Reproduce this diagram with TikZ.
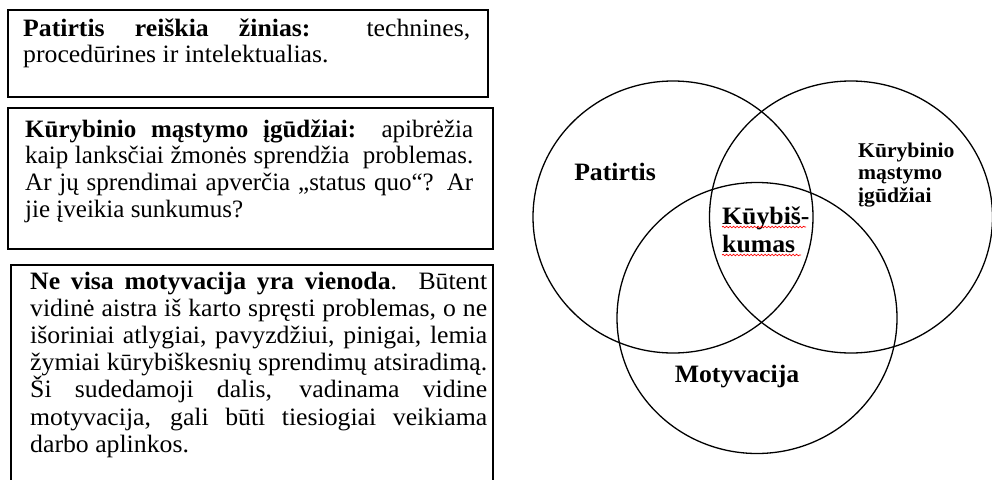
\documentclass[tikz,border=0pt]{standalone}
\usepackage{fontspec}
\setmainfont{Liberation Serif}[FakeStretch=1.03]
\newfontfamily\narrowserif{Liberation Serif}
\usetikzlibrary{ shapes.geometric,        % For the ellipse rings
                 fit,                     % For boxes around the texts
                 decorations.pathmorphing, % For the wavy underline
               }
\hyphenpenalty=10000
\exhyphenpenalty=10000
\tikzstyle{panel} = [rectangle, draw=black, line width=1.3pt, inner sep=0pt]
\tikzstyle{panel_text} = [anchor=base west, inner sep=0pt, align=justify, font=\fontsize{25}{26.7}\selectfont]
\tikzstyle{ring} = [ellipse, draw=black, line width=1.3pt, inner sep=0pt, minimum width=280pt, minimum height=272pt]
\tikzstyle{ring_label} = [inner sep=0pt, anchor=base, font=\fontsize{25}{28}\selectfont\bfseries]
\tikzstyle{squiggle} = [red, line width=0.7pt, decorate, decoration={snake, amplitude=0.8pt, segment length=3.5pt}]

\begin{document}
\begin{tikzpicture}[x=1pt, y=-1pt]
  \useasboundingbox (0, 0) rectangle (992, 479);
  % text panels
  \node (txt_exp) [panel_text, text width=447pt] at (23, 36) {\textbf{Patirtis reiškia žinias:} technines,\linebreak procedūrines ir intelektualias.};
  \node (box_exp) [panel, fit={(8, 10) (488, 97)}] {};
  \node (txt_cre) [panel_text, text width=448pt, font=\narrowserif\fontsize{25}{26.7}\selectfont] at (25, 137) {\textbf{Kūrybinio mąstymo įgūdžiai:} apibrėžia\linebreak kaip lanksčiai žmonės sprendžia\ \ problemas.\linebreak Ar jų sprendimai apverčia „status quo“? Ar\linebreak jie įveikia sunkumus?};
  \node (box_cre) [panel, fit={(8, 108) (493, 249)}] {};
  \node (txt_mot) [panel_text, text width=457pt, font=\fontsize{25}{27.2}\selectfont] at (30, 289) {\textbf{Ne visa motyvacija yra vienoda}. Būtent\linebreak vidinė aistra iš karto spręsti problemas, o ne\linebreak išoriniai atlygiai, pavyzdžiui, pinigai, lemia\linebreak žymiai kūrybiškesnių sprendimų atsiradimą.\linebreak Ši sudedamoji dalis, vadinama vidine\linebreak motyvacija, gali būti tiesiogiai veikiama\linebreak darbo aplinkos.};
  \node (box_mot) [panel, fit={(11, 265) (493, 500)}] {};
  % venn rings
  \node (ring_exp) [ring] at (673, 217) {};
  \node (ring_cre) [ring, minimum width=283pt] at (851, 217) {};
  \node (ring_mot) [ring, minimum height=271pt] at (757, 318) {};
  \node (lbl_exp) [ring_label] at (615, 180) {Patirtis};
  \node (lbl_cre) [ring_label, anchor=base west, align=left, font=\fontsize{21}{22.5}\selectfont\bfseries] at (858, 202) {Kūrybinio\\mąstymo\\įgūdžiai};
  \node (lbl_core1) [ring_label, anchor=base west] at (722, 224) {Kūybiš-};
  \node (lbl_core2) [ring_label, anchor=base west] at (722, 252) {kumas};
  \node (lbl_mot) [ring_label] at (737, 382) {Motyvacija};
  \draw [squiggle] (722, 227) -- (806, 227);
  \draw [squiggle] (722, 255) -- (801, 255);
\end{tikzpicture}
\end{document}
